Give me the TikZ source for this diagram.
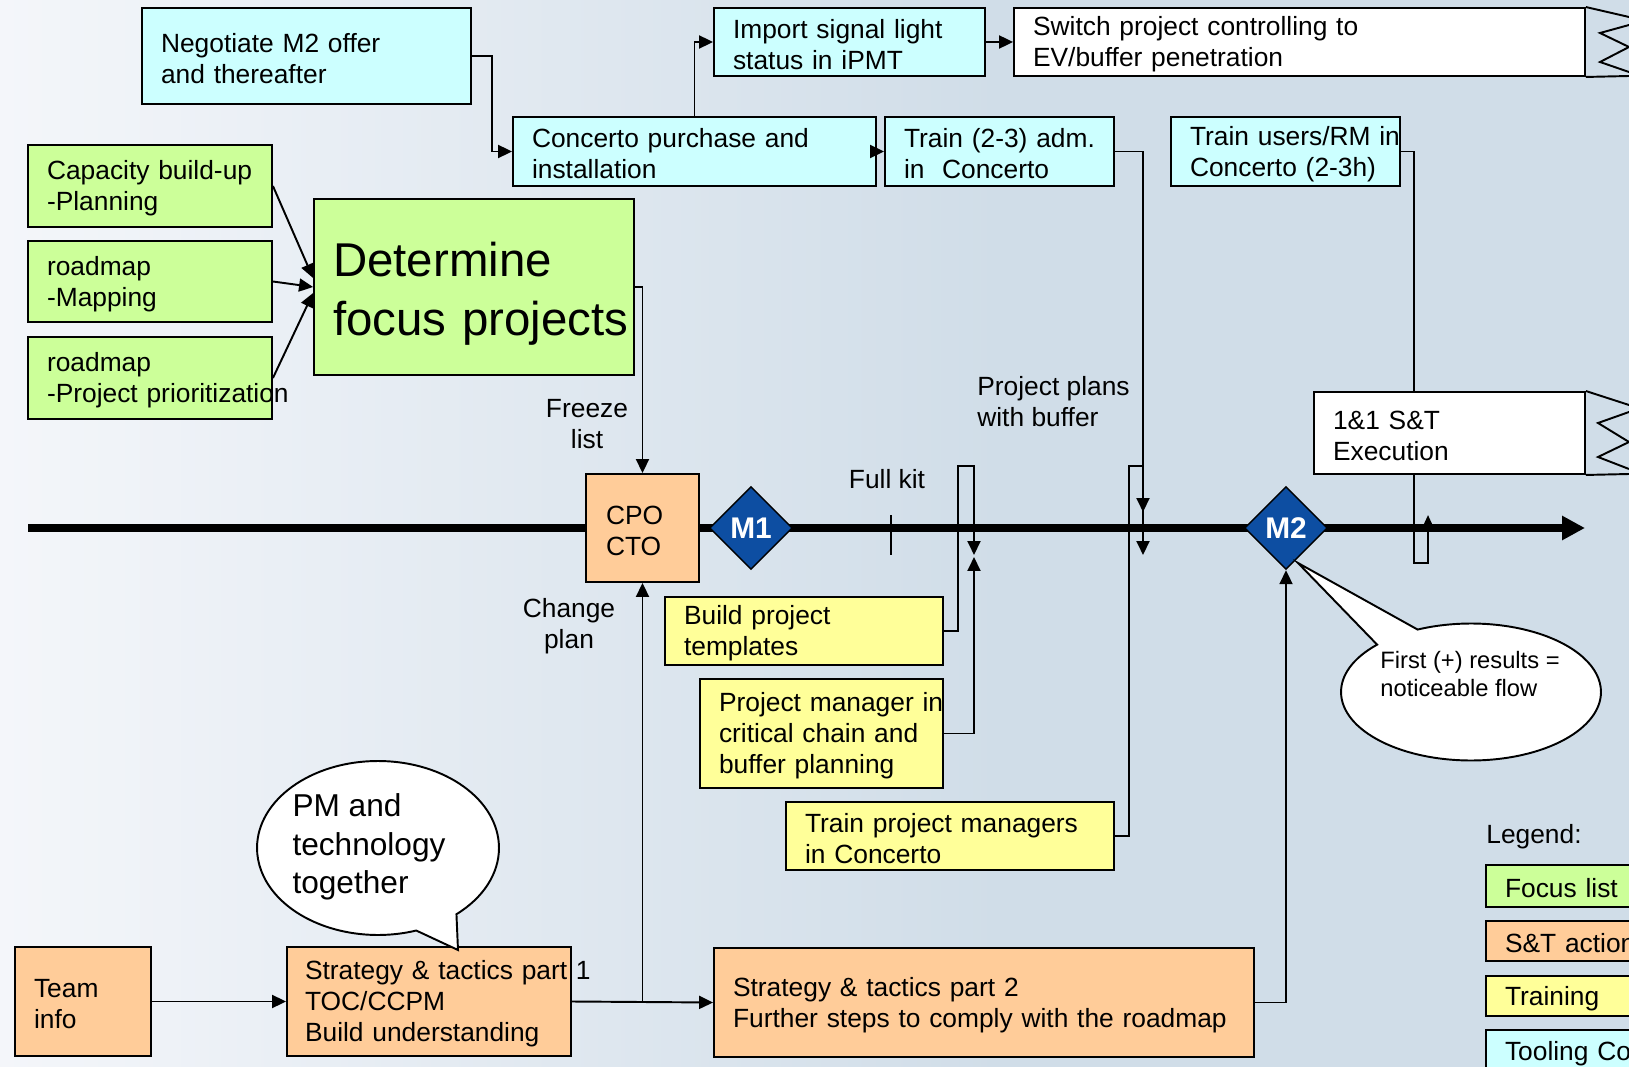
\documentclass[tikz,border=0pt]{standalone}
\usepackage{fontspec}
\setmainfont{Liberation Sans}
\usetikzlibrary{arrows.meta,shapes.geometric,shapes.callouts}

\definecolor{focusgreen}{HTML}{CCFF99}
\definecolor{storange}{HTML}{FFCC99}
\definecolor{trainyellow}{HTML}{FFFF99}
\definecolor{toolcyan}{HTML}{CCFFFF}
\definecolor{mileblue}{HTML}{0D4EA2}
\definecolor{bgleft}{HTML}{F4F6FA}
\definecolor{bgright}{HTML}{D0DDE8}

\newcommand{\taskfont}{\fontsize{15}{17.6}\selectfont}
\newcommand{\focusfont}{\fontsize{27}{33.5}\selectfont}

\tikzset{
  box/.style={draw=black, line width=1.1pt, inner sep=0pt, align=left, font=\taskfont,
    execute at begin node=\rule{0pt}{13.6pt}},
  focusbox/.style={box, fill=focusgreen},
  stbox/.style={box, fill=storange},
  trainbox/.style={box, fill=trainyellow},
  toolbox/.style={box, fill=toolcyan},
  flagbox/.style={box, fill=white},
  lbl/.style={inner sep=0pt, font=\taskfont},
  flow/.style={line width=1.1pt, -{Triangle[length=0.28cm,width=0.26cm]}},
  flowsmall/.style={line width=1.1pt, -{Triangle[length=0.2cm,width=0.17cm]}},
  timeline/.style={line width=4pt, -{Triangle[length=0.46cm,width=0.46cm]}},
  milestone/.style={diamond, aspect=1, draw=black, line width=0.8pt, fill=mileblue,
    minimum width=1.66cm, minimum height=1.66cm, inner sep=0pt,
    text=white, font=\fontsize{17}{20}\selectfont\bfseries},
  bubble/.style={ellipse callout, draw=black, line width=1.1pt, fill=white,
    callout pointer arc=22},
}

\begin{document}
\begin{tikzpicture}[x=0.02cm, y=-0.02cm]
    \useasboundingbox (0,0) rectangle (1629,1067);
    \clip (0,0) rectangle (1629,1067);
    \fill[bgright] (0,0) rectangle (1629,1067);
    \shade[left color=bgleft, right color=bgright] (0,0) rectangle (1000,1067);

    \coordinate (tstart) at (28,528);
    \coordinate (tend) at (1585,528);
    \draw[timeline] (tstart) -- (tend);
    \draw[line width=1.1pt] (891,515) -- (891,555);

    % tooling
    \node[toolbox, minimum width=6.58cm, minimum height=1.92cm, text width=5.82cm] (negot) at (306.5,56) {Negotiate M2 offer\\and thereafter};
    \node[toolbox, minimum width=5.42cm, minimum height=1.36cm, text width=4.66cm] (import) at (849.5,42) {Import signal light\\status in iPMT};
    \node[flagbox, minimum width=11.42cm, minimum height=1.36cm, text width=10.66cm] (switch) at (1299.5,42) {Switch project controlling to\\EV/buffer penetration};
    \draw[line width=1.1pt] (switch.north east) -- (1629,17);
    \draw[line width=1.1pt] (switch.south east) -- (1629,76);
    \draw[line width=1.1pt] (1629,25) -- (1600,33) -- (1629,47) -- (1600,62) -- (1629,72);
    \node[toolbox, minimum width=7.26cm, minimum height=1.38cm, text width=6.5cm] (purch) at (694.5,151.5) {Concerto purchase and\\installation};
    \node[toolbox, minimum width=4.58cm, minimum height=1.38cm, text width=3.82cm] (tradm) at (999.5,151.5) {Train (2-3) adm.\\in\ \ Concerto};
    \node[toolbox, minimum width=4.58cm, minimum height=1.38cm, text width=3.82cm] (trusr) at (1285.5,151.5) {\mbox{Train users/RM in}\\Concerto (2-3h)};

    % focus list
    \node[focusbox, minimum width=4.88cm, minimum height=1.64cm, text width=4.12cm] (capac) at (150,186) {Capacity build-up\\-Planning};
    \node[focusbox, minimum width=4.88cm, minimum height=1.62cm, text width=4.12cm] (mapp) at (150,281.5) {roadmap\\-Mapping};
    \node[focusbox, minimum width=4.88cm, minimum height=1.64cm, text width=4.12cm] (prior) at (150,378) {roadmap\\\mbox{-Project prioritization}};
    \node[focusbox, minimum width=6.4cm, minimum height=3.52cm, text width=5.64cm, font=\focusfont, execute at begin node=\rule{0pt}{27.5pt}] (focus) at (474,287) {Determine\\\mbox{focus projects}};

    % S&T actions
    \node[stbox, minimum width=2.26cm, minimum height=2.16cm, text width=1.46cm] (cpo) at (642.5,528) {CPO\\CTO};
    \node[stbox, minimum width=2.72cm, minimum height=2.18cm, text width=1.96cm] (team) at (83,1001.5) {Team\\info};
    \node[stbox, minimum width=5.68cm, minimum height=2.18cm, text width=4.96cm] (st1) at (429,1001.5) {\mbox{Strategy \& tactics part 1}\\TOC/CCPM\\Build understanding};
    \node[stbox, minimum width=10.8cm, minimum height=2.18cm, text width=10.04cm] (st2) at (984,1002.5) {Strategy \& tactics part 2\\Further steps to comply with the roadmap};

    % training
    \node[trainbox, minimum width=5.56cm, minimum height=1.36cm, text width=4.8cm] (tmpl) at (804,631) {Build project\\templates};
    \node[trainbox, minimum width=4.86cm, minimum height=2.18cm, text width=4.1cm] (pmcc) at (821.5,733.5) {\mbox{Project manager in}\\critical chain and\\buffer planning};
    \node[trainbox, minimum width=6.56cm, minimum height=1.36cm, text width=5.8cm] (trpm) at (950,836) {Train project managers\\in Concerto};

    \node[milestone] (m1) at (751,528) {M1};
    \node[milestone] (m2) at (1286,528) {M2};

    \node[lbl, align=center] (freeze) at (587,424) {Freeze\\list};
    \node[lbl, align=center] (change) at (569,626) {Change\\plan};
    \node[lbl] (fullkit) at (887,479) {Full kit};
    \node[lbl, align=left, anchor=west] (plans) at (977,402) {Project plans\\with buffer};

    \coordinate (kitdown) at (974,555);
    \coordinate (kitup) at (974,557);
    \coordinate (plandown) at (1143,512);
    \coordinate (planlow) at (1143,555);
    \coordinate (execup) at (1428,515);

    \draw[flow] (capac.east) -- ([yshift=0.18cm]focus.west);
    \draw[flow] (mapp.east) -- (focus.west);
    \draw[flow] (prior.east) -- ([yshift=-0.12cm]focus.west);
    \draw[flow] (negot.east) -- ++(20,0) |- (purch.west);
    \draw[flow] (purch.north) |- (import.west);
    \draw[flow] (import.east) -- (switch.west);
    \draw[flow] (purch.east) -- (tradm.west);
    \draw[flow] (focus.east) -| (cpo.north);
    \draw[flow] (team.east) -- (st1.west);
    \draw[flow] (st1.east) -- (st2.west);
    \draw[flow] (cpo.south |- st1.east) -- (cpo.south);
    \draw[flow] (st2.east) -| (m2.south);
    \draw[flow] (tmpl.east) -| (958,466) -| (kitdown);
    \draw[flow] (pmcc.east) -| (kitup);
    \draw[flow] (tradm.east) -| (plandown);
    \draw[flow] (trpm.east) -| (1129,466) -| (planlow);
    \draw[flowsmall] (trusr.east) -| (1414,563) -| (execup);

    \node[flagbox, minimum width=5.42cm, minimum height=1.64cm, text width=4.66cm] (exec) at (1449.5,433) {1\&1 S\&T\\Execution};
    \draw[line width=1.1pt] (exec.north east) -- (1629,405);
    \draw[line width=1.1pt] (exec.south east) -- (1629,474);
    \draw[line width=1.1pt] (1629,412) -- (1598,423) -- (1629,442) -- (1598,457) -- (1629,469);

    % callouts
    \coordinate (pmtip) at (458,950);
    \coordinate (m2tip) at (1298,563);
    \node[bubble, minimum width=4.84cm, minimum height=3.48cm, callout absolute pointer=(pmtip)] (pmcall) at (378,848) {};
    \node[lbl, align=left, font=\fontsize{18}{21.9}\selectfont] (pmtext) at (369,847) {PM and\\technology\\together};
    \node[bubble, minimum width=5.2cm, minimum height=2.74cm, callout absolute pointer=(m2tip)] (flowcall) at (1471,692) {};
    \node[lbl, align=left, font=\fontsize{13.5}{15.9}\selectfont] (flowtext) at (1470,674) {First (+) results =\\noticeable flow};

    % legend
    \node[lbl, anchor=west] (legend) at (1486,837) {Legend:};
    \node[focusbox, minimum width=3.48cm, minimum height=0.84cm, text width=2.72cm] (lgfocus) at (1573,886) {Focus list};
    \node[stbox, minimum width=3.48cm, minimum height=0.8cm, text width=2.72cm] (lgst) at (1573,941) {\mbox{S\&T actions}};
    \node[trainbox, minimum width=3.48cm, minimum height=0.8cm, text width=2.72cm] (lgtrain) at (1573,996) {Training};
    \node[toolbox, minimum width=3.48cm, minimum height=0.84cm, text width=2.72cm] (lgtool) at (1573,1051) {\mbox{Tooling Concerto}};
\end{tikzpicture}
\end{document}
